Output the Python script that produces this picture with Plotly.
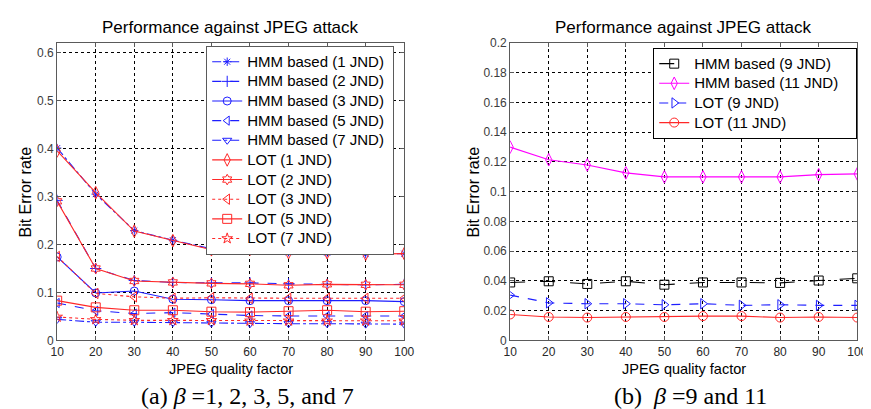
import plotly.graph_objects as go

# ---------------- data ----------------
quality = [10, 20, 30, 40, 50, 60, 70, 80, 90, 100]

hmm_1 = [0.401, 0.305, 0.229, 0.209, 0.191, 0.190, 0.184, 0.183, 0.180, 0.181]
hmm_2 = [0.292, 0.150, 0.125, 0.121, 0.120, 0.120, 0.118, 0.117, 0.116, 0.117]
hmm_3 = [0.174, 0.099, 0.103, 0.086, 0.085, 0.083, 0.083, 0.083, 0.083, 0.081]
hmm_5 = [0.078, 0.062, 0.056, 0.058, 0.055, 0.052, 0.051, 0.051, 0.051, 0.051]
hmm_7 = [0.044, 0.038, 0.038, 0.037, 0.036, 0.035, 0.035, 0.035, 0.034, 0.034]
lot_1 = [0.395, 0.308, 0.228, 0.208, 0.189, 0.190, 0.183, 0.183, 0.180, 0.181]
lot_2 = [0.290, 0.150, 0.124, 0.121, 0.119, 0.118, 0.115, 0.117, 0.116, 0.116]
lot_3 = [0.175, 0.098, 0.091, 0.088, 0.089, 0.088, 0.088, 0.088, 0.088, 0.088]
lot_5 = [0.083, 0.069, 0.063, 0.063, 0.060, 0.059, 0.061, 0.063, 0.060, 0.061]
lot_7 = [0.049, 0.044, 0.042, 0.042, 0.042, 0.041, 0.041, 0.041, 0.041, 0.041]

hmm_9 = [0.0390, 0.0398, 0.0380, 0.0398, 0.0375, 0.0390, 0.0390, 0.0387, 0.0403, 0.0418]
hmm_11 = [0.130, 0.1215, 0.118, 0.1127, 0.110, 0.110, 0.110, 0.110, 0.1115, 0.112]
lot_9 = [0.0305, 0.0253, 0.0247, 0.0247, 0.0240, 0.0247, 0.0236, 0.0240, 0.0236, 0.0236]
lot_11 = [0.0175, 0.0158, 0.0154, 0.0158, 0.0158, 0.0164, 0.0164, 0.0154, 0.0158, 0.0154]

left_yticks = [0, 0.1, 0.2, 0.3, 0.4, 0.5, 0.6]
right_yticks = [0, 0.02, 0.04, 0.06, 0.08, 0.1, 0.12, 0.14, 0.16, 0.18, 0.2]
left_ytext = ["0", "0.1", "0.2", "0.3", "0.4", "0.5", "0.6"]
right_ytext = ["0", "0.02", "0.04", "0.06", "0.08", "0.1", "0.12", "0.14", "0.16", "0.18", "0.2"]

title_text = "Performance against JPEG attack"
xlabel = "JPEG quality factor"
ylabel = "Bit Error rate"
caption_a = "(a) <i>β</i> =1, 2, 3, 5, and 7"
caption_b = "(b)  <i>β</i> =9 and 11"

# ---------------- figure ----------------
W, H = 871, 409
BLUE = "rgb(30,30,255)"
RED = "rgb(255,40,40)"

fig = go.Figure()

def big(name, pad):
    return '<span style="font-size:15px">' + name + '&nbsp;' * pad + '</span>'

def add(x, y, name, color, dash, symbol, size, xa, ya, legend, pad, width=1.1):
    fig.add_trace(go.Scatter(
        x=x, y=y, name=big(name, pad), mode="lines+markers",
        line=dict(color=color, dash=dash, width=width),
        marker=dict(symbol=symbol, size=size, color=color, line=dict(color=color, width=1)),
        xaxis=xa, yaxis=ya, legend=legend))

add(quality, hmm_1, "HMM based (1 JND)", BLUE, "dashdot", "asterisk-open", 7, "x", "y", "legend", 1)
add(quality, hmm_2, "HMM based (2 JND)", BLUE, "dash", "cross-thin-open", 8, "x", "y", "legend", 1)
add(quality, hmm_3, "HMM based (3 JND)", BLUE, "solid", "circle-open", 8, "x", "y", "legend", 1)
add(quality, hmm_5, "HMM based (5 JND)", BLUE, "dash", "triangle-left-open", 8, "x", "y", "legend", 1)
add(quality, hmm_7, "HMM based (7 JND)", BLUE, "dashdot", "triangle-down-open", 8, "x", "y", "legend", 1)
add(quality, lot_1, "LOT (1 JND)", RED, "solid", "diamond-tall-open", 9, "x", "y", "legend", 0)
add(quality, lot_2, "LOT (2 JND)", RED, "solid", "hexagram-open", 8, "x", "y", "legend", 0)
add(quality, lot_3, "LOT (3 JND)", RED, "dot", "triangle-left-open", 9, "x", "y", "legend", 0)
add(quality, lot_5, "LOT (5 JND)", RED, "solid", "square-open", 9, "x", "y", "legend", 0)
add(quality, lot_7, "LOT (7 JND)", RED, "dot", "star-open", 8, "x", "y", "legend", 0)

add(quality, hmm_9, "HMM based (9 JND)", "black", "longdash", "square-open", 9, "x2", "y2", "legend2", 0)
add(quality, hmm_11, "HMM based (11 JND)", "rgb(255,0,255)", "solid", "diamond-tall-open", 9, "x2", "y2", "legend2", 3)
add(quality, lot_9, "LOT (9 JND)", BLUE, "dash", "triangle-right-open", 9, "x2", "y2", "legend2", 0)
add(quality, lot_11, "LOT (11 JND)", RED, "solid", "circle-open", 9, "x2", "y2", "legend2", 0)

def px_x(p):
    return p / W

def px_y(p):
    return (H - p) / H

ydom = [px_y(337), px_y(29)]

axis_common = dict(
    showline=True, linecolor="rgb(90,90,90)", linewidth=1, mirror="ticks",
    ticks="inside", ticklen=4, tickcolor="rgb(90,90,90)",
    showgrid=True, gridcolor="black", griddash="dot", gridwidth=1,
    zeroline=False,
)

xfont = dict(family="Liberation Sans Narrow, Arial Narrow, Liberation Sans, Arial", size=12, color="rgb(40,40,40)")
yfont = dict(family="Liberation Sans, Arial", size=12, color="rgb(60,60,60)")
legfont = dict(family="Liberation Sans, Arial", size=12.8, color="black")

fig.update_layout(
    width=W, height=H,
    margin=dict(l=0, r=0, t=0, b=0),
    paper_bgcolor="white", plot_bgcolor="white",
    font=dict(family="Liberation Sans, Arial", color="black"),
    xaxis=dict(domain=[px_x(43), px_x(397)], range=[10, 100], tickvals=quality,
               tickfont=xfont, anchor="y", **axis_common),
    yaxis=dict(domain=ydom, range=[0, 0.62], tickvals=left_yticks, ticktext=left_ytext,
               tickfont=yfont, anchor="x", **axis_common),
    xaxis2=dict(domain=[px_x(505), px_x(859)], range=[10, 100], tickvals=quality,
                tickfont=xfont, anchor="y2", **axis_common),
    yaxis2=dict(domain=ydom, range=[0, 0.2], tickvals=right_yticks, ticktext=right_ytext,
                tickfont=yfont, anchor="x2", **axis_common),
    legend=dict(x=px_x(195), y=px_y(32), xanchor="left", yanchor="top",
                bgcolor="white", bordercolor="rgb(90,90,90)", borderwidth=1,
                font=legfont, tracegroupgap=0, itemwidth=30),
    legend2=dict(x=px_x(859), y=px_y(34), xanchor="right", yanchor="top",
                 bgcolor="white", bordercolor="black", borderwidth=1,
                 font=legfont, tracegroupgap=0, itemwidth=30),
    showlegend=True,
)

annotations = []
for cx, cap, capx in [((43 + 397) / 2, caption_a, 237), ((505 + 859) / 2, caption_b, 689)]:
    annotations.append(dict(x=px_x(cx), y=px_y(13), xref="paper", yref="paper", text=title_text,
                            showarrow=False, font=dict(size=17, family="Liberation Sans, Arial"),
                            xanchor="center", yanchor="middle"))
    annotations.append(dict(x=px_x(cx), y=px_y(367), xref="paper", yref="paper", text=xlabel,
                            showarrow=False, font=dict(size=14.5, family="Liberation Sans, Arial"),
                            xanchor="center", yanchor="middle"))
    annotations.append(dict(x=px_x(capx), y=px_y(395), xref="paper", yref="paper", text=cap,
                            showarrow=False, font=dict(size=24, family="Liberation Serif, Times New Roman"),
                            xanchor="center", yanchor="middle"))
for lx in [11, 468]:
    annotations.append(dict(x=px_x(lx), y=px_y(183), xref="paper", yref="paper", text=ylabel,
                            showarrow=False, textangle=-90, font=dict(size=16, family="Liberation Sans, Arial"),
                            xanchor="center", yanchor="middle"))
fig.update_layout(annotations=annotations)

fig.write_html("out.html")
